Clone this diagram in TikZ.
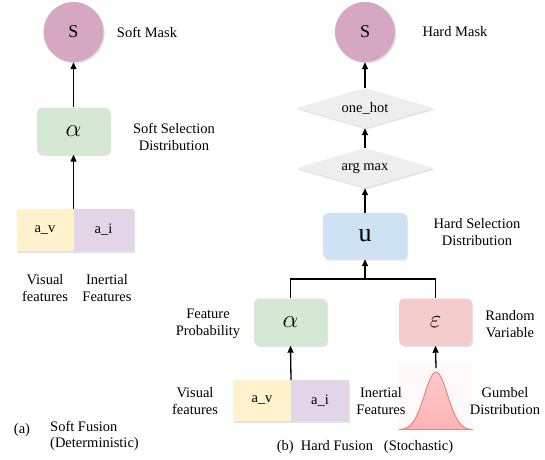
\RequirePackage{fix-cm}
\documentclass[tikz,border=0pt]{standalone}
\usepackage{fontspec}
\setmainfont{Liberation Serif}
\usetikzlibrary{shapes.geometric,shadows,arrows.meta}
\definecolor{maskC}{HTML}{D6A7C0}
\definecolor{greenC}{HTML}{D5E8D4}
\definecolor{blueC}{HTML}{CFE2F3}
\definecolor{redC}{HTML}{F4CCCC}
\definecolor{yelC}{HTML}{FFF2CC}
\definecolor{purC}{HTML}{E1D5E7}
\definecolor{grayC}{HTML}{EEEEEE}
\definecolor{gumC}{HTML}{FFB3B3}
\definecolor{gumL}{HTML}{FF6E6E}
\definecolor{gumBG}{HTML}{FFF9F9}
\tikzset{
  shd/.style={drop shadow={opacity=0.22,shadow xshift=1.2pt,shadow yshift=-1.5pt}},
  maskcirc/.style={circle,fill=maskC,minimum size=60pt,inner sep=0pt,shd,font=\fontsize{18}{20}\selectfont},
  rbox/.style={rounded corners=5pt,minimum width=73pt,minimum height=47pt,inner sep=0pt,shd},
  featbox/.style={minimum height=42pt,inner sep=0pt,shd,font=\fontsize{14.5}{17}\selectfont},
  dia/.style={diamond,fill=grayC,minimum width=137pt,minimum height=40pt,inner sep=0pt,aspect=3.4,shd,font=\fontsize{14.5}{17}\selectfont},
  lbl/.style={align=center,font=\fontsize{14.5}{17.5}\selectfont,inner sep=0pt},
  conn/.style={line width=1.3pt,-{Triangle[length=7pt,width=6pt]}},
  plain/.style={line width=1.3pt},
  greek/.style={font=\fontsize{25}{27}\selectfont}
}
\begin{document}
\begin{tikzpicture}[x=1pt,y=-1pt]
\useasboundingbox (0,0) rectangle (545,459);
% ---------------- left (a) ----------------
\node[maskcirc] (S1) at (73.5,32) {S};
\node[rbox,fill=greenC,greek] (al1) at (73.5,131) {$\alpha$};
\node[featbox,fill=yelC,minimum width=57pt] (av1) at (45,230) {a\_v};
\node[featbox,fill=purC,minimum width=60pt] (ai1) at (103.5,230) {a\_i};
\coordinate (j1) at (73.5,209);
\draw[conn] (j1) -- (al1.south);
\draw[conn] (al1.north) -- (S1.south);
\node[lbl] (tSM) at (147,32) {Soft Mask};
\node[lbl] (tSSD) at (174,137) {Soft Selection\\Distribution};
\node[lbl] (tV1) at (45,288) {Visual\\features};
\node[lbl] (tI1) at (107,288) {Inertial\\Features};
\node[lbl,anchor=center] (ta) at (22,430) {(a)};
\node[lbl,align=left,anchor=north west,font=\fontsize{14.5}{16.5}\selectfont] (tSF) at (50,421) {Soft Fusion\\(Deterministic)};
% ---------------- right (b) ----------------
\node[maskcirc] (S2) at (365,32) {S};
\node[dia] (oh) at (365,108) {one\_hot};
\node[dia] (am) at (365,168) {arg max};
\node[rbox,fill=blueC,minimum width=84pt,minimum height=46pt] (u) at (365,236) {\fontsize{26}{28}\selectfont u};
\node[rbox,fill=greenC,greek] (al2) at (290.5,322) {$\alpha$};
\node[rbox,fill=redC,greek] (eps) at (435.5,322) {$\varepsilon$};
\node[featbox,fill=yelC,minimum width=58pt,minimum height=41pt] (av2) at (262,400.5) {a\_v};
\node[featbox,fill=purC,minimum width=58pt,minimum height=41pt] (ai2) at (320,400.5) {a\_i};
% gumbel
\fill[gumBG] (398,362) rectangle (472,432);
\fill[top color=gumC!70,bottom color=gumC] plot[domain=-37:37,samples=80,smooth] ({436+\x},{430-58*exp(-(\x/11.5)^2/2)}) -- cycle;
\draw[gumL,line width=0.7pt] plot[domain=-37:37,samples=80,smooth] ({436+\x},{430-58*exp(-(\x/11.5)^2/2)});
\coordinate (gpk) at (436,368);
\coordinate (j2) at (291,380);
\coordinate (jj) at (365,279);
\draw[conn] (j2) -- (al2.south);
\draw[conn] (gpk) -- (eps.south);
\draw[plain] (al2.north) |- (jj) -| (eps.north);
\draw[conn] (jj) -- (u.south);
\draw[conn] (u.north) -- (am.south);
\draw[conn] (am.north) -- (oh.south);
\draw[conn] (oh.north) -- (S2.south);
\node[lbl] (tHM) at (455,32) {Hard Mask};
\node[lbl] (tHSD) at (477,232) {Hard Selection\\Distribution};
\node[lbl] (tFP) at (208,324) {Feature\\Probability};
\node[lbl] (tRV) at (510,324) {Random\\Variable};
\node[lbl] (tV2) at (195,401) {Visual\\features};
\node[lbl] (tI2) at (381,401) {Inertial\\Features};
\node[lbl] (tGD) at (505,401) {Gumbel\\Distribution};
\node[lbl] (tb) at (365,447) {(b)\ \ Hard Fusion\ \ \ (Stochastic)};
\end{tikzpicture}
\end{document}
